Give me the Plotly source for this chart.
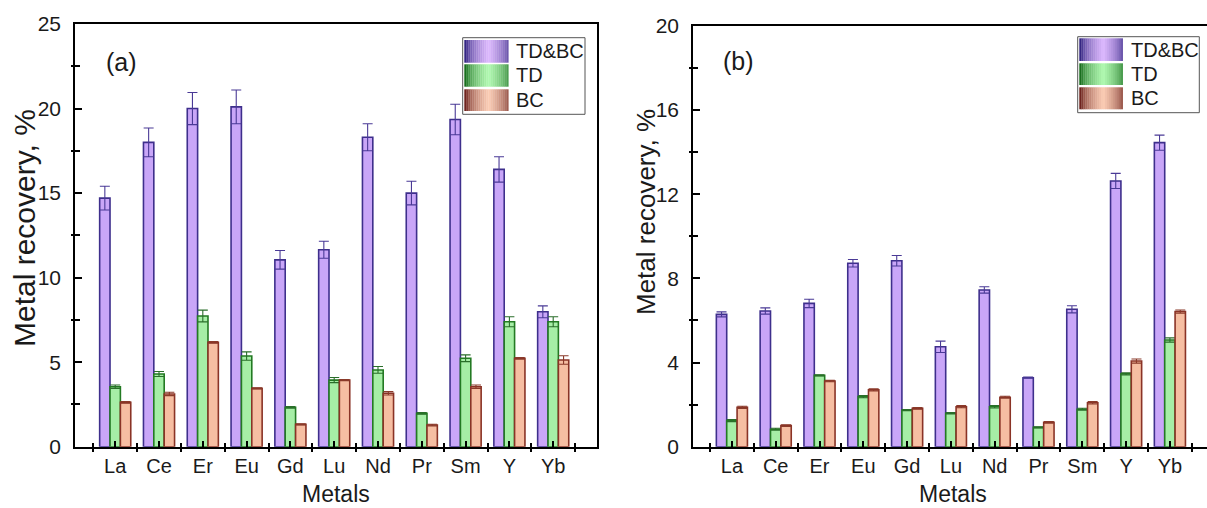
import plotly.graph_objects as go

metals = ["La", "Ce", "Er", "Eu", "Gd", "Lu", "Nd", "Pr", "Sm", "Y", "Yb"]
series_names = ["TD&BC", "TD", "BC"]

a_tdbc = [14.7, 18.0, 20.0, 20.1, 11.05, 11.65, 18.3, 15.0, 19.35, 16.4, 7.98]
a_tdbc_err = [0.7, 0.85, 0.95, 1.0, 0.55, 0.5, 0.8, 0.7, 0.9, 0.75, 0.35]
a_td = [3.55, 4.3, 7.73, 5.36, 2.33, 3.94, 4.54, 1.97, 5.23, 7.39, 7.39]
a_td_err = [0.1, 0.15, 0.35, 0.25, 0.05, 0.15, 0.2, 0.05, 0.2, 0.3, 0.3]
a_bc = [2.62, 3.12, 6.17, 3.45, 1.32, 3.94, 3.16, 1.28, 3.55, 5.23, 5.13]
a_bc_err = [0.05, 0.1, 0.05, 0.03, 0.03, 0.03, 0.1, 0.05, 0.1, 0.05, 0.25]

b_tdbc = [6.29, 6.45, 6.81, 8.72, 8.84, 4.75, 7.45, 3.28, 6.53, 12.63, 14.45]
b_tdbc_err = [0.12, 0.15, 0.2, 0.18, 0.25, 0.27, 0.15, 0.03, 0.17, 0.36, 0.36]
b_td = [1.24, 0.83, 3.39, 2.38, 1.74, 1.59, 1.9, 0.92, 1.78, 3.46, 5.07]
b_td_err = [0.05, 0.05, 0.03, 0.05, 0.03, 0.03, 0.06, 0.03, 0.05, 0.05, 0.1]
b_bc = [1.87, 1.0, 3.12, 2.7, 1.82, 1.9, 2.35, 1.16, 2.09, 4.07, 6.42]
b_bc_err = [0.05, 0.04, 0.03, 0.05, 0.04, 0.05, 0.05, 0.04, 0.06, 0.1, 0.08]

a_yticks = [0, 5, 10, 15, 20, 25]
b_yticks = [0, 4, 8, 12, 16, 20]

W, H = 1207, 508
FONT = "Liberation Sans, Arial, sans-serif"

fills = ["#c9a6f8", "#a6eea6", "#f6bea2"]
edges = ["#3e2f8c", "#237a23", "#8a3326"]
errc = ["#4a3a96", "#2a6e2a", "#8a3a2a"]
lights = [(222, 186, 255), (178, 250, 178), (252, 206, 182)]
darks = [(52, 38, 130), (25, 110, 30), (110, 35, 30)]

xpos = list(range(len(metals)))

fig = go.Figure()

panels = [
    ("x", "y", [a_tdbc, a_td, a_bc], [a_tdbc_err, a_td_err, a_bc_err]),
    ("x2", "y2", [b_tdbc, b_td, b_bc], [b_tdbc_err, b_td_err, b_bc_err]),
]
for xa, ya, vals, errs in panels:
    for k in range(3):
        fig.add_trace(go.Bar(
            x=xpos, y=vals[k], name=series_names[k], xaxis=xa, yaxis=ya,
            marker=dict(color=fills[k], line=dict(color=edges[k], width=1.6)),
            error_y=dict(type="data", array=errs[k], color=errc[k],
                         thickness=1.1, width=5, visible=True),
            showlegend=False,
        ))

def px2x(p):
    return p / W

def px2y(p):
    return 1 - p / H

dom_a = [px2x(75), px2x(597)]
dom_b = [px2x(693), 1.0]
ydom_a = [px2y(446.7), px2y(24)]
ydom_b = [px2y(446.7), px2y(25.9)]
xr_a = [-0.918, 11.0]
xr_b = [-0.888, 10.847]

common_x = dict(
    tickmode="array", tickvals=xpos, ticktext=metals,
    ticks="inside", ticklen=6, tickwidth=1.5, tickcolor="black",
    showline=True, linecolor="black", linewidth=1.6, mirror=True,
    showgrid=False, zeroline=False, automargin=False,
    tickfont=dict(family=FONT, size=20, color="#1a1a1a"),
    ticklabelstandoff=0,
    minor=dict(tickmode="linear", tick0=0.5, dtick=1, ticks="inside",
               ticklen=4, tickwidth=1.5, tickcolor="black"),
)
common_y = dict(
    ticks="inside", ticklen=7, tickwidth=1.5, tickcolor="black",
    showline=True, linecolor="black", linewidth=1.6,
    showgrid=False, zeroline=False, automargin=False,
    tickfont=dict(family=FONT, size=21, color="#1a1a1a"),
    ticklabelstandoff=8,
)
overlay_common = dict(showticklabels=False, showline=False, showgrid=False,
                      zeroline=False, automargin=False, tickwidth=1.5,
                      tickcolor="black", ticks="outside")

fig.update_layout(
    width=W, height=H,
    margin=dict(l=0, r=0, t=0, b=0, autoexpand=False),
    paper_bgcolor="white", plot_bgcolor="white",
    barmode="group", bargap=0.29, bargroupgap=0.0,
    showlegend=False,
    xaxis=dict(domain=dom_a, range=xr_a, anchor="y", **common_x),
    yaxis=dict(domain=ydom_a, range=[0, 25], anchor="x",
               tickvals=a_yticks, mirror=True,
               minor=dict(tickmode="linear", tick0=2.5, dtick=5, ticks="inside",
                          ticklen=5, tickwidth=1.5, tickcolor="black"),
               **common_y),
    xaxis2=dict(domain=dom_b, range=xr_b, anchor="y2", **common_x),
    yaxis2=dict(domain=ydom_b, range=[0, 20], anchor="x2",
                tickvals=b_yticks, mirror=False,
                minor=dict(tickmode="linear", tick0=2, dtick=4, ticks="inside",
                           ticklen=5, tickwidth=1.5, tickcolor="black"),
                **common_y),
    # overlay axes giving the outer half of the crossing minor ticks
    xaxis3=dict(overlaying="x", anchor="y", range=xr_a, domain=dom_a,
                tickmode="linear", tick0=0.5, dtick=1, ticklen=4, **overlay_common),
    xaxis4=dict(overlaying="x2", anchor="y2", range=xr_b, domain=dom_b,
                tickmode="linear", tick0=0.5, dtick=1, ticklen=4, **overlay_common),
    yaxis3=dict(overlaying="y", anchor="x", range=[0, 25], domain=ydom_a,
                tickmode="linear", tick0=2.5, dtick=5, ticklen=3, **overlay_common),
    yaxis4=dict(overlaying="y2", anchor="x2", range=[0, 20], domain=ydom_b,
                tickmode="linear", tick0=2, dtick=4, ticklen=3, **overlay_common),
)

# invisible traces to activate the overlay axes
fig.add_trace(go.Scatter(x=[0], y=[0], xaxis="x3", yaxis="y3", mode="markers",
                         marker=dict(opacity=0), showlegend=False, hoverinfo="skip"))
fig.add_trace(go.Scatter(x=[0], y=[0], xaxis="x4", yaxis="y4", mode="markers",
                         marker=dict(opacity=0), showlegend=False, hoverinfo="skip"))

shapes = []
annotations = []

def legend_box(x0, x1, y0, y1, sw_x0, sw_x1, rows, text_x):
    shapes.append(dict(type="rect", xref="paper", yref="paper",
                       x0=px2x(x0), x1=px2x(x1), y0=px2y(y1), y1=px2y(y0),
                       line=dict(color="#555555", width=1), fillcolor="white"))
    n = 22
    for k, (ry0, ry1) in enumerate(rows):
        for i in range(n):
            t = (i + 0.5) / n
            d = abs(2 * t - 1.1)
            f = (1 - d) ** 0.55 if d < 1 else 0
            f = max(0.0, min(1.0, f))
            c = tuple(int(darks[k][j] + (lights[k][j] - darks[k][j]) * f) for j in range(3))
            sx0 = sw_x0 + (sw_x1 - sw_x0) * i / n
            sx1 = sw_x0 + (sw_x1 - sw_x0) * (i + 1) / n + 0.3
            shapes.append(dict(type="rect", xref="paper", yref="paper",
                               x0=px2x(sx0), x1=px2x(sx1), y0=px2y(ry1), y1=px2y(ry0),
                               line=dict(width=0), fillcolor="rgb(%d,%d,%d)" % c))
        annotations.append(dict(xref="paper", yref="paper", x=px2x(text_x),
                                y=px2y((ry0 + ry1) / 2), text=series_names[k],
                                showarrow=False, xanchor="left", yanchor="middle",
                                font=dict(family=FONT, size=20, color="#1a1a1a")))

legend_box(462.7, 585, 37.7, 114.3, 464.3, 508.3,
           [(40, 62.7), (64.3, 86.7), (89.3, 111)], 514)
legend_box(1077.7, 1199.3, 36.7, 112.7, 1079.3, 1122.7,
           [(38.3, 61), (63.3, 85), (87.3, 109.3)], 1129)

# panel labels
annotations.append(dict(xref="paper", yref="paper", x=px2x(121), y=px2y(62),
                        text="(a)", showarrow=False, xanchor="center", yanchor="middle",
                        font=dict(family=FONT, size=25, color="#1a1a1a")))
annotations.append(dict(xref="paper", yref="paper", x=px2x(738), y=px2y(61),
                        text="(b)", showarrow=False, xanchor="center", yanchor="middle",
                        font=dict(family=FONT, size=25, color="#1a1a1a")))
# axis titles
annotations.append(dict(xref="paper", yref="paper", x=px2x(24), y=px2y(228),
                        text="Metal recovery, %", showarrow=False, textangle=-90,
                        xanchor="center", yanchor="middle",
                        font=dict(family=FONT, size=30, color="#1a1a1a")))
annotations.append(dict(xref="paper", yref="paper", x=px2x(646), y=px2y(212),
                        text="Metal recovery, %", showarrow=False, textangle=-90,
                        xanchor="center", yanchor="middle",
                        font=dict(family=FONT, size=26, color="#1a1a1a")))
annotations.append(dict(xref="paper", yref="paper", x=px2x(336), y=px2y(494),
                        text="Metals", showarrow=False, xanchor="center", yanchor="middle",
                        font=dict(family=FONT, size=23, color="#1a1a1a")))
annotations.append(dict(xref="paper", yref="paper", x=px2x(953), y=px2y(494),
                        text="Metals", showarrow=False, xanchor="center", yanchor="middle",
                        font=dict(family=FONT, size=23, color="#1a1a1a")))

fig.update_layout(shapes=shapes, annotations=annotations)

fig.write_html("out.html")
